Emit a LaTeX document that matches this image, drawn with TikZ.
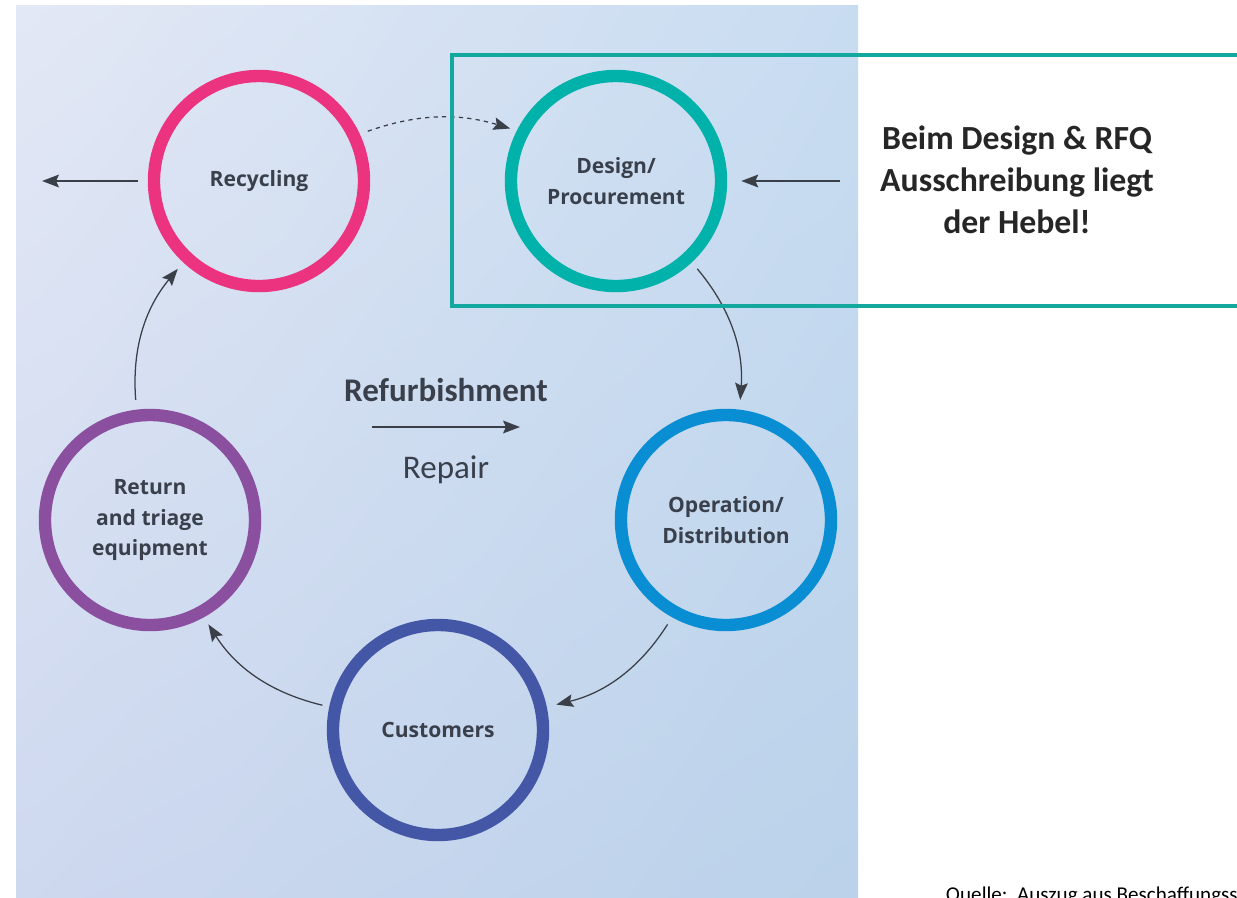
\documentclass[tikz,border=0pt]{standalone}
\usepackage{fontspec}
\newfontfamily\stagefont{Open Sans}
\newfontfamily\notefont{Carlito}
\usetikzlibrary{
    arrows.meta,
    shadings,
    positioning
    }

\definecolor{recpink}{HTML}{EC3380}
\definecolor{desteal}{HTML}{00B2A9}
\definecolor{opblue}{HTML}{0A8ED3}
\definecolor{cusindigo}{HTML}{4457A6}
\definecolor{retpurple}{HTML}{8B4F9F}
\definecolor{flowgray}{HTML}{3B3F48}
\definecolor{labelgray}{HTML}{3A404B}
\definecolor{frameteal}{HTML}{13A89E}
\definecolor{bgul}{HTML}{E3E8F5}
\definecolor{bgur}{HTML}{C8DCF1}
\definecolor{bgll}{HTML}{CED8EF}
\definecolor{bglr}{HTML}{BAD2EA}

\begin{document}
\begin{tikzpicture}[x=0.025cm, y=-0.025cm]
\tikzset{stage/.style =
        {
            shape=circle,
            line width=8.8pt,
            minimum size=5.25cm,
            inner sep=0pt,
            align=center,
            text=labelgray,
            font=\stagefont\bfseries\fontsize{15}{21.5}\selectfont,
            draw
        }
}

\tikzset{flow/.style =
        {
            line width=0.9pt,
            flowgray,
            -{Stealth[length=12pt, width=9pt, inset=2pt]}
        }
}

\tikzset{bigflow/.style =
        {
            flow,
            line width=1.4pt
        }
}

\tikzset{focus/.style =
        {
            line width=3.5pt,
            frameteal
        }
}

\tikzset{note/.style =
        {
            align=center,
            text=black!85,
            font=\notefont\bfseries\fontsize{24}{30}\selectfont
        }
}
		\useasboundingbox (0,0) rectangle (1237,897);
		\clip (0,0) rectangle (1237,897);
		\fill[white] (0,0) rectangle (1237,897);

		\shade[upper left=bgul, upper right=bgur, lower left=bgll, lower right=bglr]
			(16,5) rectangle (858,897);

		\node[stage, draw=recpink] (rec) at (259,181) {Recycling};
		\node[stage, draw=desteal] (des) at (616,181) {Design/\\Procurement};
		\node[stage, draw=opblue] (op) at (726,520) {Operation/\\Distribution};
		\node[stage, draw=cusindigo] (cus) at (438,730) {Customers};
		\node[stage, draw=retpurple] (ret) at (150,520) {Return\\and triage\\equipment};

		\coordinate (exit) at (42,181);
		\coordinate (lever) at (840,181);
		\coordinate (rf start) at (372,427);
		\coordinate (rf end) at (520,427);

		\draw[bigflow, shorten <=7pt] (rec.west) -- (exit);
		\draw[bigflow, shorten >=10pt] (lever) -- (des.east);
		\draw[flow, dashed, shorten <=6pt, shorten >=5pt] (rec.25) to[bend left=18] (des.153);
		\draw[flow, shorten <=6pt, shorten >=7pt] (des.-47) to[bend left=22] (op.83);
		\draw[flow, shorten <=6pt, shorten >=7pt] (op.241) to[bend left=22] (cus.12);
		\draw[flow, shorten <=5pt, shorten >=6pt] (cus.168) to[bend left=22] (ret.-61);
		\draw[flow, shorten <=7pt, shorten >=6pt] (ret.97) to[bend left=22] (rec.227);
		\draw[bigflow] (rf start) -- (rf end);

		\node[text=labelgray, font=\notefont\bfseries\fontsize{23.5}{28}\selectfont]
			(refurb) at (446,390) {Refurbishment};
		\node[text=labelgray, font=\notefont\fontsize{23.5}{28}\selectfont]
			(repair) at (446,470) {Repair};

		\draw[focus] (452,55) rectangle (1260,306);
		\node[note] (lever text) at (1017,180) {Beim Design \& RFQ\\Ausschreibung liegt\\der Hebel!};

		\node[anchor=base west, text=black, font=\notefont\fontsize{15}{17}\selectfont]
			(source) at (941,901) {Quelle:\ \ Auszug aus Beschaffungss};
	\end{tikzpicture}
\end{document}
